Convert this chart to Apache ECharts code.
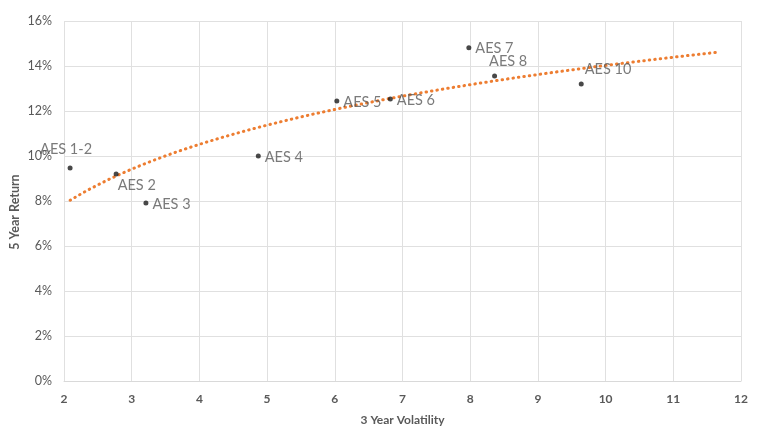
<!DOCTYPE html>
<html><head><meta charset="utf-8">
<script src="https://cdn.jsdelivr.net/npm/echarts@6/dist/echarts.min.js"></script>
<style>html,body{margin:0;padding:0;background:#fff}#c{width:763px;height:427px}</style>
</head><body><div id="c"></div>
<script>
const names = ['AES 1-2','AES 2','AES 3','AES 4','AES 5','AES 6','AES 7','AES 8','AES 10'];
const volatility = [2.09, 2.77, 3.21, 4.87, 6.03, 6.82, 7.98, 8.36, 9.64];
const returns = [9.47, 9.2, 7.91, 10.0, 12.44, 12.53, 14.81, 13.56, 13.2];
const xTicks = [2,3,4,5,6,7,8,9,10,11,12];
const yTicks = [0,2,4,6,8,10,12,14,16];
const forecastForward = 2;
const xTitle = '3 Year Volatility';
const yTitle = '5 Year Return';

// label placement per point (style only)
const labelOffsets = {
  'AES 1-2': {position:'top', offset:[-4,-5]},
  'AES 2': {position:'right', offset:[-5,11]},
  'AES 8': {position:'right', offset:[-12,-15]},
  'AES 10': {position:'right', offset:[-3,-15]}
};

// logarithmic trendline (least squares on ln x)
const lx = volatility.map(v=>Math.log(v));
const n = lx.length;
const mx = lx.reduce((a,b)=>a+b,0)/n, my = returns.reduce((a,b)=>a+b,0)/n;
let sxy=0,sxx=0;
for(let i=0;i<n;i++){sxy+=(lx[i]-mx)*(returns[i]-my);sxx+=(lx[i]-mx)**2;}
const b = sxy/sxx, a = my-b*mx;
const x0 = Math.min(...volatility), x1 = Math.max(...volatility)+forecastForward;
const trend=[];
for(let i=0;i<=100;i++){const x=x0+(x1-x0)*i/100;trend.push([x,a+b*Math.log(x)]);}

const font = 'Lato, "Open Sans", sans-serif';
const chart = echarts.init(document.getElementById('c'));
chart.setOption({
  animation:false,
  grid:{left:64,right:22,top:21,bottom:46,containLabel:false,outerBoundsMode:'none'},
  graphic:[{type:'text',x:15,y:212,rotation:Math.PI/2,
    style:{text:yTitle,fill:'#595959',font:'bold 12.5px '+font,align:'center',verticalAlign:'middle'}}],
  xAxis:{type:'value',min:xTicks[0],max:xTicks[xTicks.length-1],interval:1,
    name:xTitle,nameLocation:'middle',nameGap:33,
    nameTextStyle:{color:'#595959',fontSize:12,fontWeight:'bold',fontFamily:font},
    axisLine:{show:true,lineStyle:{color:'#d9d9d9'}},axisTick:{show:false},
    axisLabel:{color:'#595959',fontSize:12,fontWeight:'bold',fontFamily:font,margin:12},
    splitLine:{show:true,lineStyle:{color:'#e0e0e0',width:1}}},
  yAxis:{type:'value',min:yTicks[0],max:yTicks[yTicks.length-1],interval:2,
    axisLine:{show:false},axisTick:{show:false},
    axisLabel:{color:'#595959',fontSize:12.5,fontFamily:font,margin:12,formatter:v=>v+'%'},
    splitLine:{show:true,lineStyle:{color:'#e0e0e0',width:1}}},
  series:[
    {type:'line',data:trend,showSymbol:false,smooth:false,z:1,
     lineStyle:{color:'#ED7D31',width:3,type:[0.5,5],cap:'round'}},
    {type:'scatter',z:3,symbolSize:5,itemStyle:{color:'#1a1a1a'},
     data:volatility.map((v,i)=>{
       const o = labelOffsets[names[i]]||{position:'right',offset:[0,1]};
       return {value:[v,returns[i]],name:names[i],
         label:{show:true,formatter:names[i],position:o.position,offset:o.offset,distance:4,
           color:'#595959',fontSize:14.5,fontFamily:font}};
     })}
  ]
});
</script></body></html>
